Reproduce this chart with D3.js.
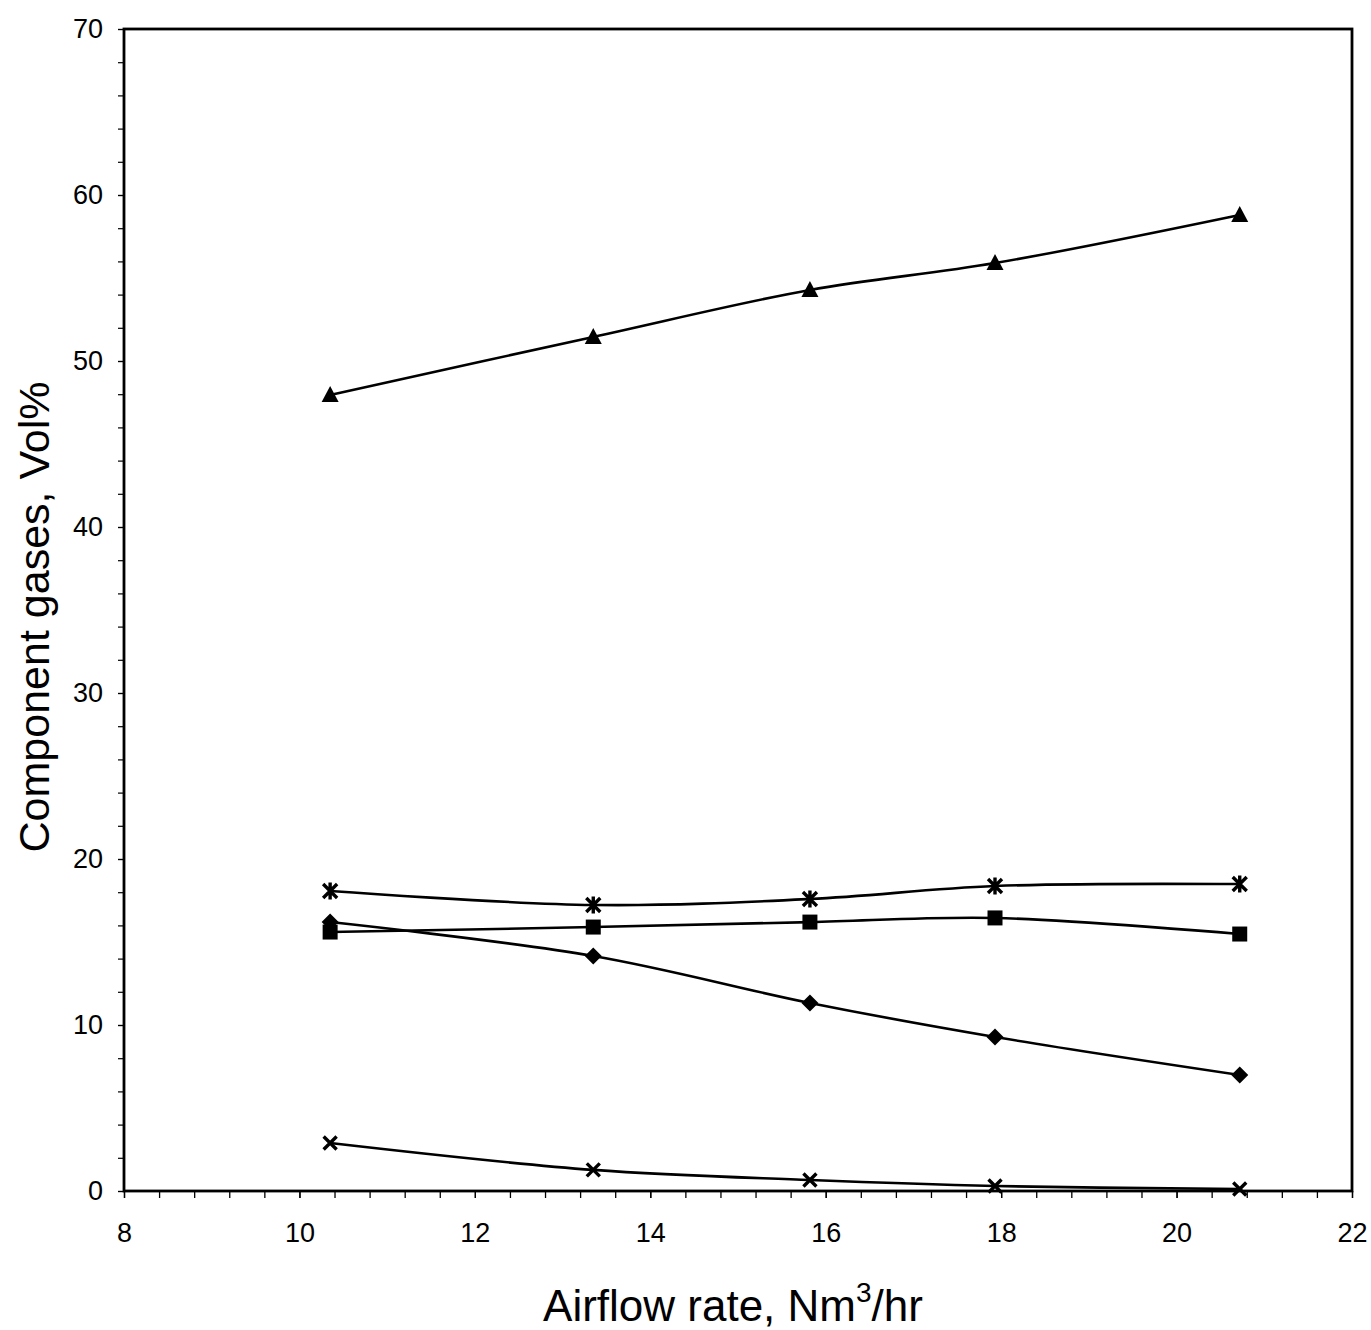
<!DOCTYPE html>
<html>
<head>
<meta charset="utf-8">
<script src="https://cdnjs.cloudflare.com/ajax/libs/d3/7.8.5/d3.min.js"></script>
<style>
  html, body { margin: 0; padding: 0; background: #fff; }
  svg { display: block; }
  text { font-family: "Liberation Sans", Arial, sans-serif; fill: #000; }
</style>
</head>
<body>
<svg id="chart" width="1371" height="1330"></svg>
<script>
// Airflow rate (Nm3/hr) for each run
const airflow = [10.35, 13.35, 15.82, 17.93, 20.72];

// Component gas fractions, Vol%
const seriesTriangle = [47.95, 51.45, 54.28, 55.9, 58.8];
const seriesAsterisk = [18.07, 17.23, 17.59, 18.37, 18.49];
const seriesSquare   = [15.6, 15.9, 16.2, 16.45, 15.48];
const seriesDiamond  = [16.2, 14.16, 11.33, 9.28, 6.99];
const seriesCross    = [2.89, 1.27, 0.66, 0.30, 0.12];

const xTicks = [8, 10, 12, 14, 16, 18, 20, 22];
const yTicks = [0, 10, 20, 30, 40, 50, 60, 70];

const series = [
  { name: "triangle", values: seriesTriangle, marker: "triangle" },
  { name: "asterisk", values: seriesAsterisk, marker: "asterisk" },
  { name: "square",   values: seriesSquare,   marker: "square" },
  { name: "diamond",  values: seriesDiamond,  marker: "diamond" },
  { name: "cross",    values: seriesCross,    marker: "cross" }
];

const svg = d3.select("#chart");
const plotLeft = 124, plotRight = 1352, plotTop = 29, plotBottom = 1191;
const fontFamily = "Liberation Sans, Arial, sans-serif";

const x = d3.scaleLinear().domain([8, 22]).range([plotLeft, plotRight]);
const y = d3.scaleLinear().domain([0, 70]).range([plotBottom, plotTop]);

// Minor ticks
const xMinor = d3.range(8, 22.0001, 0.4);
const yMinor = d3.range(0, 70.0001, 2);

const gx = svg.append("g").attr("transform", `translate(0,${plotBottom})`);
gx.call(d3.axisBottom(x).tickValues(xMinor).tickSize(7).tickFormat(""))
  .call(g => g.select(".domain").remove())
  .call(g => g.selectAll("line").attr("stroke", "#000").attr("stroke-width", 1.3));
gx.append("g").call(d3.axisBottom(x).tickValues(xTicks).tickSize(7).tickPadding(25).tickFormat(d3.format("d")))
  .attr("font-size", 27).attr("font-family", fontFamily)
  .call(g => g.select(".domain").remove())
  .call(g => g.selectAll("line").attr("stroke", "#000").attr("stroke-width", 1.3))
  .call(g => g.selectAll("text").attr("fill", "#000"));

const gy = svg.append("g").attr("transform", `translate(${plotLeft},0)`);
gy.call(d3.axisLeft(y).tickValues(yMinor).tickSize(6).tickFormat(""))
  .call(g => g.select(".domain").remove())
  .call(g => g.selectAll("line").attr("stroke", "#000").attr("stroke-width", 1.2));
gy.append("g").call(d3.axisLeft(y).tickValues(yTicks).tickSize(6).tickPadding(15).tickFormat(d3.format("d")))
  .attr("font-size", 27).attr("font-family", fontFamily)
  .call(g => g.select(".domain").remove())
  .call(g => g.selectAll("line").attr("stroke", "#000").attr("stroke-width", 1.2))
  .call(g => g.selectAll("text").attr("fill", "#000"));

// Plot frame
svg.append("rect")
  .attr("x", plotLeft).attr("y", plotTop)
  .attr("width", plotRight - plotLeft).attr("height", plotBottom - plotTop)
  .attr("fill", "none").attr("stroke", "#000").attr("stroke-width", 2.8);

// Smoothed series lines
const line = d3.line()
  .x((d, i) => x(airflow[i]))
  .y(d => y(d))
  .curve(d3.curveCatmullRom.alpha(0.5));

svg.append("g").selectAll("path")
  .data(series)
  .join("path")
  .attr("d", s => line(s.values))
  .attr("fill", "none")
  .attr("stroke", "#000")
  .attr("stroke-width", 2.6);

// Markers
function drawMarker(g, type) {
  if (type === "triangle") {
    g.append("path").attr("d", "M0,-9L8.5,7L-8.5,7Z").attr("fill", "#000");
  } else if (type === "square") {
    g.append("path").attr("d", "M-7.5,-7.5H7.5V7.5H-7.5Z").attr("fill", "#000");
  } else if (type === "diamond") {
    g.append("path").attr("d", "M0,-8.5L8.5,0L0,8.5L-8.5,0Z").attr("fill", "#000");
  } else if (type === "asterisk") {
    const r = 7;
    g.append("path")
      .attr("d", `M${-r},${-r}L${r},${r}M${-r},${r}L${r},${-r}M0,${-r - 1.5}L0,${r + 1.5}`)
      .attr("stroke", "#000").attr("stroke-width", 3.4).attr("fill", "none");
  } else if (type === "cross") {
    const r = 6.5;
    g.append("path")
      .attr("d", `M${-r},${-r}L${r},${r}M${-r},${r}L${r},${-r}`)
      .attr("stroke", "#000").attr("stroke-width", 3.4).attr("fill", "none");
  }
}

series.forEach(s => {
  s.values.forEach((v, i) => {
    const g = svg.append("g").attr("transform", `translate(${x(airflow[i])},${y(v)})`);
    drawMarker(g, s.marker);
  });
});

// Axis titles
svg.append("text")
  .attr("x", 733)
  .attr("y", 1321)
  .attr("text-anchor", "middle")
  .attr("font-size", 44)
  .call(t => {
    t.append("tspan").text("Airflow rate, Nm");
    t.append("tspan").attr("dy", -19).attr("font-size", 28).text("3");
    t.append("tspan").attr("dy", 19).text("/hr");
  });

svg.append("text")
  .attr("transform", `translate(49,617) rotate(-90)`)
  .attr("text-anchor", "middle")
  .attr("font-size", 43)
  .text("Component gases, Vol%");
</script>
</body>
</html>
